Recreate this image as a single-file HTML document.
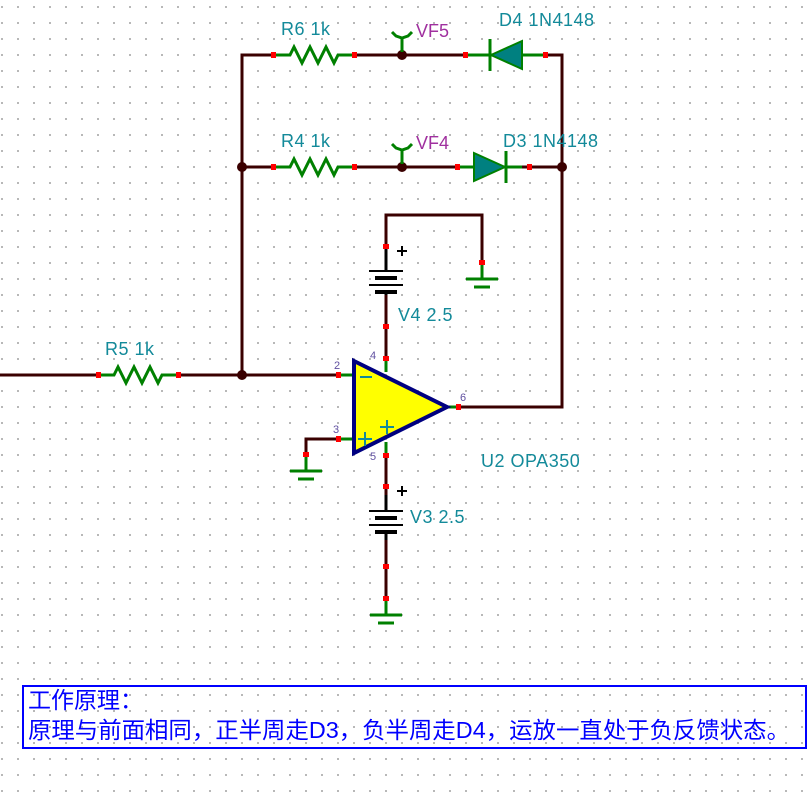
<!DOCTYPE html>
<html><head><meta charset="utf-8"><style>
html,body{margin:0;padding:0;background:#fff;}
svg{display:block;}
.lbl{font-family:"Liberation Sans",sans-serif;font-size:18px;fill:#138a9a;letter-spacing:0.5px;}
.vf{font-family:"Liberation Sans",sans-serif;font-size:18px;fill:#a0309f;}
.pin{font-family:"Liberation Sans",sans-serif;font-size:11px;fill:#6050a0;}
.cn{font-family:"Liberation Sans","Noto Sans CJK SC",sans-serif;font-size:23px;fill:#0000ff;}
</style></head><body>
<svg width="811" height="798" xmlns="http://www.w3.org/2000/svg">
<defs>
<pattern id="g" x="0" y="0" width="16" height="16" patternUnits="userSpaceOnUse">
<rect x="1" y="6" width="2" height="2" fill="#b8b8b8"/>
</pattern>
</defs>
<rect width="811" height="798" fill="url(#g)"/>
<g stroke="#3a0000" stroke-width="3" fill="none">
<!-- top row -->
<polyline points="242,375 242,55 273,55"/>
<line x1="354" y1="55" x2="466" y2="55"/>
<polyline points="546,55 562,55 562,407 456,407"/>
<line x1="242" y1="167" x2="273" y2="167"/>
<line x1="354" y1="167" x2="458" y2="167"/>
<line x1="522" y1="167" x2="562" y2="167"/>
<line x1="0" y1="375" x2="98" y2="375"/>
<line x1="178" y1="375" x2="338" y2="375"/>
<!-- V4 -->
<polyline points="386,247 386,215 482,215 482,263"/>
<line x1="386" y1="295" x2="386" y2="359"/>
<line x1="386" y1="455" x2="386" y2="495"/>
<line x1="386" y1="540" x2="386" y2="598"/>
<polyline points="338,439 306,439 306,455"/>
</g>
<!-- junction dots -->
<g fill="#3a0000">
<circle cx="242" cy="167" r="5"/><circle cx="242" cy="375" r="5"/>
<circle cx="562" cy="167" r="5"/><circle cx="402" cy="55" r="5"/><circle cx="402" cy="167" r="5"/>
</g>
<!-- resistors -->
<g stroke="#008000" stroke-width="3" fill="none">
<polyline points="98,375 114,375 118,367 126,383 134,367 142,383 150,367 158,383 162,375 178,375"/>
<polyline points="273,55 290,55 294,47 302,63 310,47 318,63 326,47 334,63 338,55 354,55"/>
<polyline points="273,167 290,167 294,159 302,175 310,159 318,175 326,159 334,175 338,167 354,167"/>
<!-- probes -->
<polyline points="402,52 402,38"/><polyline points="392,32 396,36 402,38 408,36 412,32"/>
<polyline points="402,164 402,150"/><polyline points="392,144 396,148 402,150 408,148 412,144"/>
<!-- diode wires -->
<line x1="466" y1="55" x2="546" y2="55"/>
<line x1="458" y1="167" x2="522" y2="167"/>
<line x1="490" y1="39" x2="490" y2="71"/>
<line x1="506" y1="151" x2="506" y2="183"/>
<!-- grounds -->
<line x1="482" y1="263" x2="482" y2="279"/><line x1="466" y1="279" x2="498" y2="279"/><line x1="474" y1="287" x2="490" y2="287"/>
<line x1="306" y1="455" x2="306" y2="471"/><line x1="290" y1="471" x2="322" y2="471"/><line x1="298" y1="479" x2="314" y2="479"/>
<line x1="386" y1="598" x2="386" y2="615"/><line x1="370" y1="615" x2="402" y2="615"/><line x1="378" y1="623" x2="394" y2="623"/>
<line x1="338" y1="375" x2="354" y2="375"/><line x1="338" y1="439" x2="354" y2="439"/>
<line x1="386" y1="359" x2="386" y2="372"/><line x1="386" y1="442" x2="386" y2="455"/>
<line x1="448" y1="407" x2="458" y2="407"/>
</g>
<polygon points="491,55 522,41 522,69" fill="#008080" stroke="#008000" stroke-width="2"/>
<polygon points="505,167 474,153 474,181" fill="#008080" stroke="#008000" stroke-width="2"/>
<!-- batteries -->
<g stroke="#000" fill="none">
<line x1="386" y1="247" x2="386" y2="271" stroke-width="3"/>
<line x1="386" y1="291" x2="386" y2="295" stroke-width="3"/>
<line x1="369" y1="271" x2="403" y2="271" stroke-width="2"/>
<line x1="375" y1="278" x2="397" y2="278" stroke-width="4"/>
<line x1="369" y1="285" x2="403" y2="285" stroke-width="2"/>
<line x1="375" y1="292" x2="397" y2="292" stroke-width="4"/>
<line x1="402" y1="246" x2="402" y2="256" stroke-width="2"/><line x1="397" y1="251" x2="407" y2="251" stroke-width="2"/>
<line x1="386" y1="495" x2="386" y2="511" stroke-width="3"/>
<line x1="386" y1="532" x2="386" y2="540" stroke-width="3"/>
<line x1="369" y1="511" x2="403" y2="511" stroke-width="2"/>
<line x1="375" y1="518" x2="397" y2="518" stroke-width="4"/>
<line x1="369" y1="525" x2="403" y2="525" stroke-width="2"/>
<line x1="375" y1="532" x2="397" y2="532" stroke-width="4"/>
<line x1="402" y1="486" x2="402" y2="496" stroke-width="2"/><line x1="397" y1="491" x2="407" y2="491" stroke-width="2"/>
</g>
<!-- opamp -->
<polygon points="354,361 447,407 354,453" fill="#ffff00" stroke="#000080" stroke-width="4"/>
<g stroke="#138a9a" stroke-width="2">
<line x1="360" y1="377" x2="372" y2="377"/>
<line x1="358" y1="439" x2="372" y2="439"/><line x1="365" y1="432" x2="365" y2="446"/>
<line x1="380" y1="427" x2="394" y2="427"/><line x1="387" y1="420" x2="387" y2="434"/>
</g>
<!-- red pin markers -->
<g fill="#ff0000">
<rect x="96" y="372" width="5" height="6"/><rect x="176" y="372" width="5" height="6"/>
<rect x="271" y="52" width="5" height="6"/><rect x="352" y="52" width="5" height="6"/>
<rect x="271" y="164" width="5" height="6"/><rect x="352" y="164" width="5" height="6"/>
<rect x="463" y="52" width="5" height="6"/><rect x="543" y="52" width="5" height="6"/>
<rect x="455" y="164" width="5" height="6"/><rect x="527" y="164" width="5" height="6"/>
<rect x="336" y="372" width="5" height="6"/><rect x="336" y="436" width="5" height="6"/>
<rect x="383" y="244" width="6" height="5"/><rect x="383" y="324" width="6" height="5"/>
<rect x="383" y="356" width="6" height="5"/><rect x="383" y="453" width="6" height="5"/>
<rect x="383" y="484" width="6" height="5"/><rect x="383" y="564" width="6" height="5"/><rect x="383" y="596" width="6" height="5"/>
<rect x="479" y="260" width="6" height="5"/><rect x="303" y="452" width="6" height="5"/>
<rect x="456" y="404" width="5" height="6"/>
</g>
<!-- labels -->
<text class="lbl" x="281" y="35">R6 1k</text>
<text class="lbl" x="281" y="147">R4 1k</text>
<text class="lbl" x="105" y="355">R5 1k</text>
<text class="lbl" x="499" y="26">D4 1N4148</text>
<text class="lbl" x="503" y="147">D3 1N4148</text>
<text class="vf" x="416" y="37">VF5</text>
<text class="vf" x="416" y="149">VF4</text>
<text class="lbl" x="398" y="321">V4 2.5</text>
<text class="lbl" x="410" y="523">V3 2.5</text>
<text class="lbl" x="481" y="467">U2 OPA350</text>
<text class="pin" x="334" y="369">2</text>
<text class="pin" x="333" y="433">3</text>
<text class="pin" x="460" y="401">6</text>
<text class="pin" x="370" y="359">4</text>
<text class="pin" x="370" y="460">5</text>
<!-- note box -->
<rect x="23" y="686" width="783" height="62" fill="none" stroke="#0000ff" stroke-width="2"/>
<text class="cn" x="28" y="708">工作原理：</text>
<text class="cn" x="28" y="738" textLength="762" lengthAdjust="spacingAndGlyphs">原理与前面相同，正半周走D3，负半周走D4，运放一直处于负反馈状态。</text>
</svg>
</body></html>
